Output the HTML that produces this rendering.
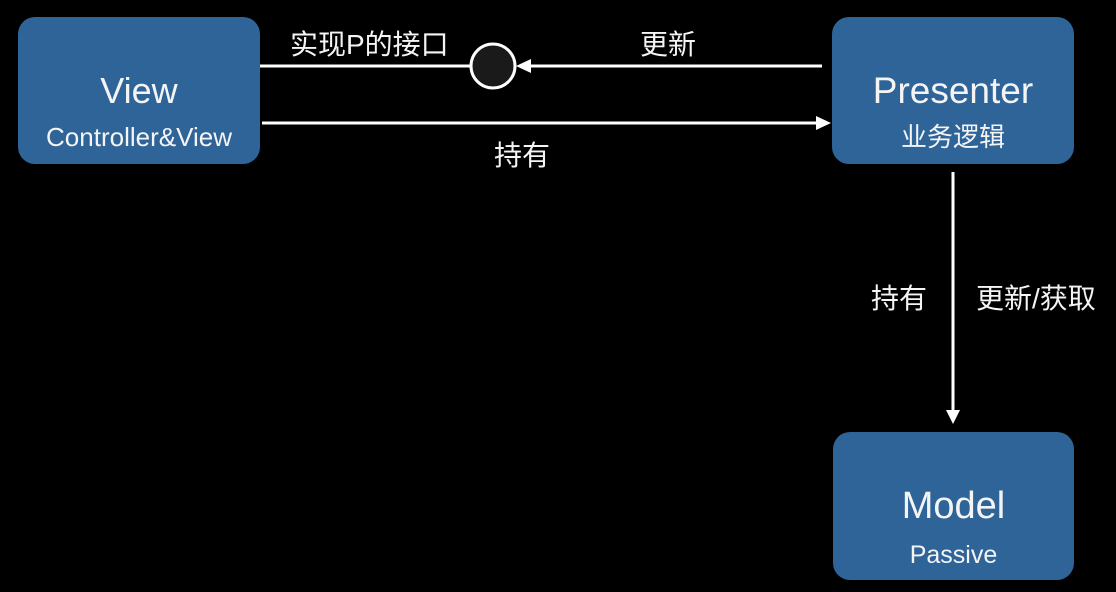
<!DOCTYPE html>
<html><head><meta charset="utf-8"><style>
html,body{margin:0;padding:0;background:#000;}
body{width:1116px;height:592px;position:relative;overflow:hidden;font-family:"Liberation Sans","Noto Sans CJK SC",sans-serif;color:#f4f4f4;}
.box{position:absolute;background:#2f6498;border-radius:17px;}
.t{position:absolute;white-space:nowrap;text-align:center;}
</style></head><body>
<div class="box" style="left:18px;top:17px;width:242px;height:147px;"></div>
<div class="box" style="left:832px;top:17px;width:242px;height:147px;"></div>
<div class="box" style="left:833px;top:432px;width:241px;height:148px;"></div>

<div class="t" style="left:18px;width:242px;top:70px;font-size:36px;line-height:42px;">View</div>
<div class="t" style="left:18px;width:242px;top:121px;font-size:26px;line-height:32px;">Controller&amp;View</div>
<div class="t" style="left:832px;width:242px;top:70px;font-size:37px;line-height:42px;">Presenter</div>
<div class="t" style="left:832px;width:242px;top:121px;font-size:26px;line-height:32px;">业务逻辑</div>
<div class="t" style="left:833px;width:241px;top:485px;font-size:38px;line-height:42px;">Model</div>
<div class="t" style="left:833px;width:241px;top:539px;font-size:25px;line-height:32px;">Passive</div>

<div class="t" style="left:290px;top:28px;font-size:28px;line-height:34px;">实现P的接口</div>
<div class="t" style="left:640px;top:28px;font-size:28px;line-height:34px;">更新</div>
<div class="t" style="left:494px;top:139px;font-size:28px;line-height:34px;">持有</div>
<div class="t" style="left:871px;top:282px;font-size:28px;line-height:34px;">持有</div>
<div class="t" style="left:976px;top:282px;font-size:28px;line-height:34px;">更新/获取</div>

<svg width="1116" height="592" style="position:absolute;left:0;top:0">
<g stroke="#fff" stroke-width="3" fill="none">
<line x1="260" y1="66" x2="471" y2="66"/>
<line x1="530" y1="66" x2="822" y2="66"/>
<line x1="262" y1="123" x2="818" y2="123"/>
<line x1="953" y1="172" x2="953" y2="412"/>
</g>
<circle cx="493" cy="66" r="22" fill="#1a1a1a" stroke="#fff" stroke-width="3"/>
<polygon points="516,66 531,59 531,73" fill="#fff"/>
<polygon points="831,123 816,116 816,130" fill="#fff"/>
<polygon points="953,424 946,410 960,410" fill="#fff"/>
</svg>
</body></html>
